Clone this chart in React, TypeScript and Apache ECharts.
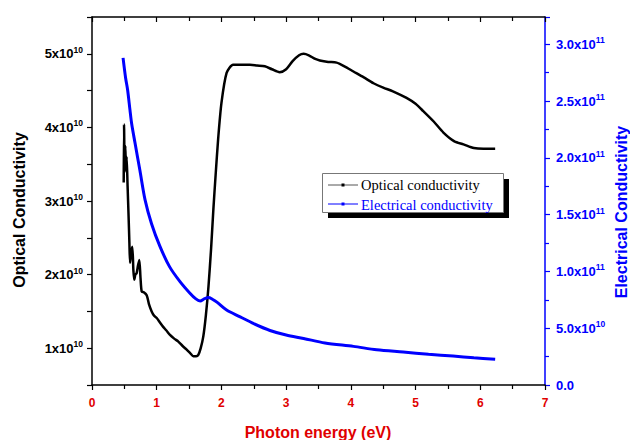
import React, { useEffect, useRef } from "react";
import * as echarts from "echarts";

// Photon energy (eV) vs optical conductivity (units of 1e10)
const opticalX = [0.49,0.495,0.505,0.515,0.525,0.535,0.55,0.565,0.578,0.588,0.605,0.623,0.64,0.654,0.67,0.69,0.71,0.731,0.75,0.768,0.8,0.845,0.88,0.922,0.96,1.0,1.05,1.10,1.15,1.205,1.27,1.334,1.4,1.463,1.52,1.566,1.61,1.643,1.68,1.72,1.76,1.80,1.84,1.875,1.91,1.95,2.0,2.08,2.18,2.3,2.44,2.55,2.67,2.78,2.9,3.0,3.1,3.2,3.27,3.35,3.45,3.52,3.65,3.78,3.9,4.04,4.2,4.35,4.5,4.65,4.86,5.0,5.12,5.28,5.43,5.6,5.74,5.9,6.05,6.23];
const opticalY = [3.25,4.04,3.45,3.75,3.4,3.6,3.2,2.8,2.43,2.16,2.3,2.38,2.05,1.93,2.0,2.02,2.12,2.2,1.95,1.77,1.76,1.72,1.6,1.5,1.44,1.41,1.35,1.29,1.24,1.18,1.13,1.09,1.03,0.98,0.93,0.89,0.89,0.91,1.0,1.16,1.45,1.84,2.35,2.88,3.35,3.85,4.33,4.74,4.85,4.85,4.85,4.84,4.83,4.79,4.75,4.79,4.9,4.98,5.0,4.98,4.93,4.91,4.89,4.88,4.83,4.76,4.68,4.6,4.54,4.49,4.4,4.32,4.22,4.08,3.93,3.81,3.77,3.72,3.71,3.71];

// Photon energy (eV) vs electrical conductivity (units of 1e11)
const electricalX = [0.48,0.52,0.55,0.587,0.613,0.665,0.74,0.82,0.92,1.05,1.2,1.36,1.51,1.6,1.67,1.74,1.8,1.86,1.93,2.08,2.29,2.5,2.75,3.0,3.27,3.6,4.04,4.4,4.81,5.2,5.58,5.9,6.23];
const electricalY = [2.88,2.7,2.6,2.42,2.3,2.13,1.89,1.63,1.42,1.22,1.04,0.91,0.81,0.76,0.74,0.76,0.77,0.755,0.73,0.66,0.6,0.54,0.48,0.44,0.41,0.37,0.34,0.31,0.29,0.27,0.255,0.24,0.226];

const xTicks = { min: 0, max: 7, interval: 1 };
const leftTicks = { min: 0.5, max: 5.5, interval: 0.5 };
const rightTicks = { min: 0, max: 3.24, interval: 0.5 };

const seriesNames = ["Optical conductivity", "Electrical conductivity"];
const axisTitles = { x: "Photon energy (eV)", left: "Optical Conductivity", right: "Electrical Conductivity" };

const SANS = "'Liberation Sans', Arial, sans-serif";
const SERIF = "'Liberation Serif', 'Times New Roman', serif";
const BLUE = "#0000ff";
const RED = "#e00000";

export default function App() {
  const ref = useRef<HTMLDivElement>(null);
  useEffect(() => {
    document.body.style.margin = "0";
    const chart = echarts.init(ref.current!, null, { renderer: "svg" });
    const opt = opticalX.map((x, i) => [x, opticalY[i]]);
    const ele = electricalX.map((x, i) => [x, electricalY[i]]);
    const richLabel = (color: string) => ({
      b: { fontFamily: SANS, fontWeight: "bold", fontSize: 13, color, lineHeight: 17 },
      s: { fontFamily: SANS, fontWeight: "bold", fontSize: 8.5, color, verticalAlign: "top", lineHeight: 17 },
    });
    chart.setOption({
      animation: false,
      backgroundColor: "#ffffff",
      grid: { left: 92, right: 85, top: 17, bottom: 55, containLabel: false },
      xAxis: [
        {
          type: "value", position: "bottom", ...xTicks,
          axisLine: { show: true, onZero: false, lineStyle: { color: "#000", width: 1.5 } },
          axisTick: { show: true, inside: false, length: 5, lineStyle: { color: "#000", width: 1.2 } },
          minorTick: { show: true, splitNumber: 2, length: 4, lineStyle: { color: "#000", width: 1.2 } },
          splitLine: { show: false },
          axisLabel: { color: RED, fontFamily: SANS, fontWeight: "bold", fontSize: 12, margin: 12 },
        },
        {
          type: "value", position: "top", ...xTicks,
          axisLine: { show: true, onZero: false, lineStyle: { color: "#000", width: 1.5 } },
          axisTick: { show: true, inside: true, length: 5, lineStyle: { color: "#000", width: 1.2 } },
          minorTick: { show: true, splitNumber: 2, length: 4, lineStyle: { color: "#000", width: 1.2 } },
          splitLine: { show: false },
          axisLabel: { show: false },
        },
      ],
      yAxis: [
        {
          type: "value", position: "left", ...leftTicks,
          axisLine: { show: true, onZero: false, lineStyle: { color: "#000", width: 1.5 } },
          axisTick: { show: true, inside: false, length: 5, lineStyle: { color: "#000", width: 1.2 } },
          splitLine: { show: false },
          axisLabel: {
            margin: 9,
            formatter: (v: number) => (Math.abs(v - Math.round(v)) < 1e-6 ? `{b|${Math.round(v)}x10}{s|10}` : ""),
            rich: richLabel("#000"),
          },
        },
        {
          type: "value", position: "right", ...rightTicks,
          axisLine: { show: true, onZero: false, lineStyle: { color: BLUE, width: 1.5 } },
          axisTick: { show: true, inside: false, length: 5, lineStyle: { color: BLUE, width: 1.2 } },
          minorTick: { show: true, splitNumber: 2, length: 4, lineStyle: { color: BLUE, width: 1.2 } },
          splitLine: { show: false },
          axisLabel: {
            margin: 11,
            showMaxLabel: false,
            formatter: (v: number) => {
              if (v === 0) return "{b|0.0}";
              if (Math.abs(v - 0.5) < 1e-6) return "{b|5.0x10}{s|10}";
              return `{b|${v.toFixed(1)}x10}{s|11}`;
            },
            rich: richLabel(BLUE),
          },
        },
      ],
      series: [
        {
          name: seriesNames[0], type: "line", xAxisIndex: 0, yAxisIndex: 0, data: opt,
          showSymbol: false, smooth: 0.25, lineStyle: { color: "#000", width: 2.5 }, itemStyle: { color: "#000" },
        },
        {
          name: seriesNames[1], type: "line", xAxisIndex: 0, yAxisIndex: 1, data: ele,
          showSymbol: false, smooth: 0.3, lineStyle: { color: BLUE, width: 3 }, itemStyle: { color: BLUE },
        },
      ],
      graphic: [
        { type: "rect", shape: { x: 328, y: 179, width: 181, height: 39 }, style: { fill: "#000" }, z: 100 },
        { type: "rect", shape: { x: 322.5, y: 173.5, width: 181, height: 39 }, style: { fill: "#fff", stroke: "#777", lineWidth: 1 }, z: 101 },
        { type: "line", shape: { x1: 328, y1: 185, x2: 358, y2: 185 }, style: { stroke: "#555", lineWidth: 1 }, z: 102 },
        { type: "rect", shape: { x: 341.5, y: 183.5, width: 3, height: 3 }, style: { fill: "#000" }, z: 102 },
        { type: "line", shape: { x1: 328, y1: 204, x2: 358, y2: 204 }, style: { stroke: BLUE, lineWidth: 1 }, z: 102 },
        { type: "rect", shape: { x: 341.5, y: 202.5, width: 3, height: 3 }, style: { fill: BLUE }, z: 102 },
        { type: "text", x: 361, y: 185, z: 102, style: { text: seriesNames[0], fill: "#000", font: `14.5px ${SERIF}`, verticalAlign: "middle", align: "left" } },
        { type: "text", x: 361, y: 204.5, z: 102, style: { text: seriesNames[1], fill: BLUE, font: `14.5px ${SERIF}`, verticalAlign: "middle", align: "left" } },
        { type: "text", x: 318, y: 432, z: 102, style: { text: axisTitles.x, fill: RED, font: `bold 16px ${SANS}`, align: "center", verticalAlign: "middle" } },
        { type: "text", x: 19, y: 210, rotation: Math.PI / 2, z: 102, style: { text: axisTitles.left, fill: "#000", font: `bold 16px ${SANS}`, align: "center", verticalAlign: "middle" } },
        { type: "text", x: 621, y: 212, rotation: Math.PI / 2, z: 102, style: { text: axisTitles.right, fill: BLUE, font: `bold 16px ${SANS}`, align: "center", verticalAlign: "middle" } },
      ],
    });
    return () => chart.dispose();
  }, []);
  return <div ref={ref} style={{ width: 630, height: 440 }} />;
}
